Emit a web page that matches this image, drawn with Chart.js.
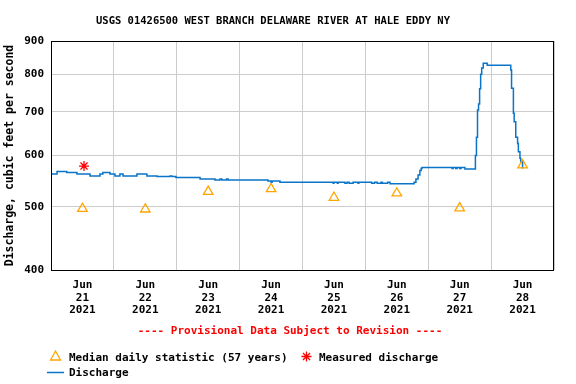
<!DOCTYPE html>
<html>
<head>
<meta charset="utf-8">
<script src="https://cdn.jsdelivr.net/npm/chart.js@4/dist/chart.umd.min.js"></script>
<style>
    body { margin: 0; background: #fff; }
    canvas { display: block; }
</style>
</head>
<body>
<canvas id="hydroChart" width="576" height="384"></canvas>
<script>
// hours since Jun 21 2021 00:00, discharge in cfs (step values)
const flowHours = [0, 2.3, 6.0, 9.9, 14.9, 18.7, 19.8, 22.5, 24.4, 26.3, 27.5, 32.8, 36.6, 40.5, 45.4, 46.2, 47.7,
    56.9, 62.6, 64.5, 65.2, 67.0, 67.6, 82.8, 84.0, 84.4, 87.4, 107.7, 108.0, 109.3, 109.6, 112.2, 113.0, 113.8,
    115.3, 117.2, 117.5, 122.4, 123.5, 124.5, 126.0, 126.5, 128.5, 129.4, 138.6, 139.3, 140.1, 140.8, 141.3, 141.6,
    153.1, 153.5, 154.5, 155.0, 156.0, 156.5, 158.0, 162.0, 162.4, 162.8, 163.2, 163.6, 164.0, 164.4, 165.0, 166.5,
    175.5, 175.8, 176.5, 176.8, 177.4, 178.1, 178.4, 179.0, 179.3, 180.0];
const flowCfs = [562, 567, 565, 562, 558, 562, 565, 562, 558, 562, 558, 562, 558, 557, 558, 557, 555,
    552, 550, 552, 550, 552, 550, 548, 546, 548, 546, 544, 546, 544, 546, 544, 546, 544,
    546, 544, 546, 544, 546, 544, 546, 544, 546, 543, 546, 552, 560, 569, 573, 575,
    573, 575, 573, 575, 573, 575, 572, 600, 640, 705, 720, 760, 800, 818, 832, 826,
    812, 761, 697, 676, 640, 626, 608, 594, 587, 573];

const medianHours = [12, 36, 60, 84, 108, 132, 156, 180];
const medianCfs = [497, 496, 528, 533, 517, 525, 498, 580];

const measuredHours = [12.6];
const measuredCfs = [578];

const dayLabels = ['21', '22', '23', '24', '25', '26', '27', '28'];
const monthLabel = 'Jun';
const yearLabel = '2021';
const yTicks = [400, 500, 600, 700, 800, 900];

const FONT = '"DejaVu Sans Mono", "Liberation Mono", monospace';
const BLUE = '#0a74c8';
const ORANGE = '#ffa500';
const RED = '#ff0000';

function toPoints(xs, ys) {
    return xs.map((x, i) => ({ x: x, y: ys[i] }));
}

// frame, title, provisional note and legend
const decorPlugin = {
    id: 'decor',
    afterDraw(chart) {
        const ctx = chart.ctx;
        const a = chart.chartArea;
        ctx.save();
        ctx.strokeStyle = '#000';
        ctx.lineWidth = 1;
        ctx.strokeRect(Math.round(a.left) + 0.5, Math.round(a.top) + 0.5,
            Math.round(a.right - a.left) - 1, Math.round(a.bottom - a.top));

        ctx.fillStyle = '#000';
        ctx.textBaseline = 'alphabetic';
        ctx.textAlign = 'center';
        ctx.font = 'bold 10.5px ' + FONT;
        ctx.fillText('USGS 01426500 WEST BRANCH DELAWARE RIVER AT HALE EDDY NY', 273, 24);

        ctx.fillStyle = RED;
        ctx.font = 'bold 11px ' + FONT;
        ctx.fillText('---- Provisional Data Subject to Revision ----', 290, 334);

        ctx.textAlign = 'left';
        ctx.fillStyle = '#000';
        ctx.fillText('Median daily statistic (57 years)', 69, 361);
        ctx.fillText('Measured discharge', 319, 361);
        ctx.fillText('Discharge', 69, 376);

        // triangle
        ctx.strokeStyle = ORANGE;
        ctx.lineWidth = 1.3;
        ctx.beginPath();
        ctx.moveTo(55.5, 351);
        ctx.lineTo(60.5, 360);
        ctx.lineTo(50.5, 360);
        ctx.closePath();
        ctx.stroke();

        // asterisk
        ctx.strokeStyle = RED;
        ctx.beginPath();
        const cx = 306.5, cy = 356.5, r = 5;
        for (let k = 0; k < 4; k++) {
            const ang = k * Math.PI / 4;
            ctx.moveTo(cx - Math.cos(ang) * r, cy - Math.sin(ang) * r);
            ctx.lineTo(cx + Math.cos(ang) * r, cy + Math.sin(ang) * r);
        }
        ctx.stroke();

        // line
        ctx.strokeStyle = BLUE;
        ctx.lineWidth = 1.5;
        ctx.beginPath();
        ctx.moveTo(47, 372.5);
        ctx.lineTo(64, 372.5);
        ctx.stroke();
        ctx.restore();
    }
};

const ctx = document.getElementById('hydroChart').getContext('2d');
const chart = new Chart(ctx, {
    type: 'line',
    data: {
        datasets: [
            {
                label: 'Median daily statistic (57 years)',
                data: toPoints(medianHours, medianCfs),
                showLine: false,
                pointStyle: 'triangle',
                pointRadius: 5.5,
                pointBorderColor: ORANGE,
                pointBackgroundColor: 'rgba(0,0,0,0)',
                pointBorderWidth: 1.3,
                order: 0
            },
            {
                label: 'Measured discharge',
                data: toPoints(measuredHours, measuredCfs),
                showLine: false,
                pointStyle: 'star',
                pointRadius: 5,
                pointBorderColor: RED,
                pointBorderWidth: 1.3,
                order: 1
            },
            {
                label: 'Discharge',
                data: toPoints(flowHours, flowCfs),
                borderColor: BLUE,
                borderWidth: 1.5,
                pointRadius: 0,
                stepped: true,
                fill: false,
                order: 2
            }
        ]
    },
    options: {
        responsive: false,
        animation: false,
        layout: { padding: { left: 0, top: 41, right: 22, bottom: 64 } },
        plugins: {
            legend: { display: false },
            title: { display: false },
            tooltip: { enabled: false }
        },
        scales: {
            x: {
                type: 'linear',
                min: 0,
                max: 192,
                border: { display: false },
                grid: {
                    drawTicks: false,
                    color: c => (c.tick && c.tick.value % 24 === 0) ? '#cccccc' : 'rgba(0,0,0,0)'
                },
                ticks: {
                    stepSize: 12,
                    autoSkip: false,
                    maxRotation: 0,
                    padding: 9,
                    color: '#000',
                    font: { family: FONT, size: 11, weight: 'bold', lineHeight: 1.14 },
                    callback: v => {
                        if (v % 24 !== 12) return '';
                        return [monthLabel, dayLabels[(v - 12) / 24], yearLabel];
                    }
                },
                afterFit: scale => { scale.height = 50; }
            },
            y: {
                type: 'logarithmic',
                min: 400,
                max: 900,
                border: { display: false },
                grid: { drawTicks: false, color: '#cccccc' },
                afterBuildTicks: scale => { scale.ticks = yTicks.map(v => ({ value: v })); },
                ticks: {
                    padding: 7,
                    color: '#000',
                    font: { family: FONT, size: 11, weight: 'bold' },
                    callback: v => String(v)
                },
                title: {
                    display: true,
                    text: 'Discharge, cubic feet per second',
                    color: '#000',
                    padding: { top: 3, bottom: 0 },
                    font: { family: FONT, size: 11.5, weight: 'bold' }
                },
                afterFit: scale => { scale.width = 51; }
            }
        }
    },
    plugins: [decorPlugin]
});
</script>
</body>
</html>
